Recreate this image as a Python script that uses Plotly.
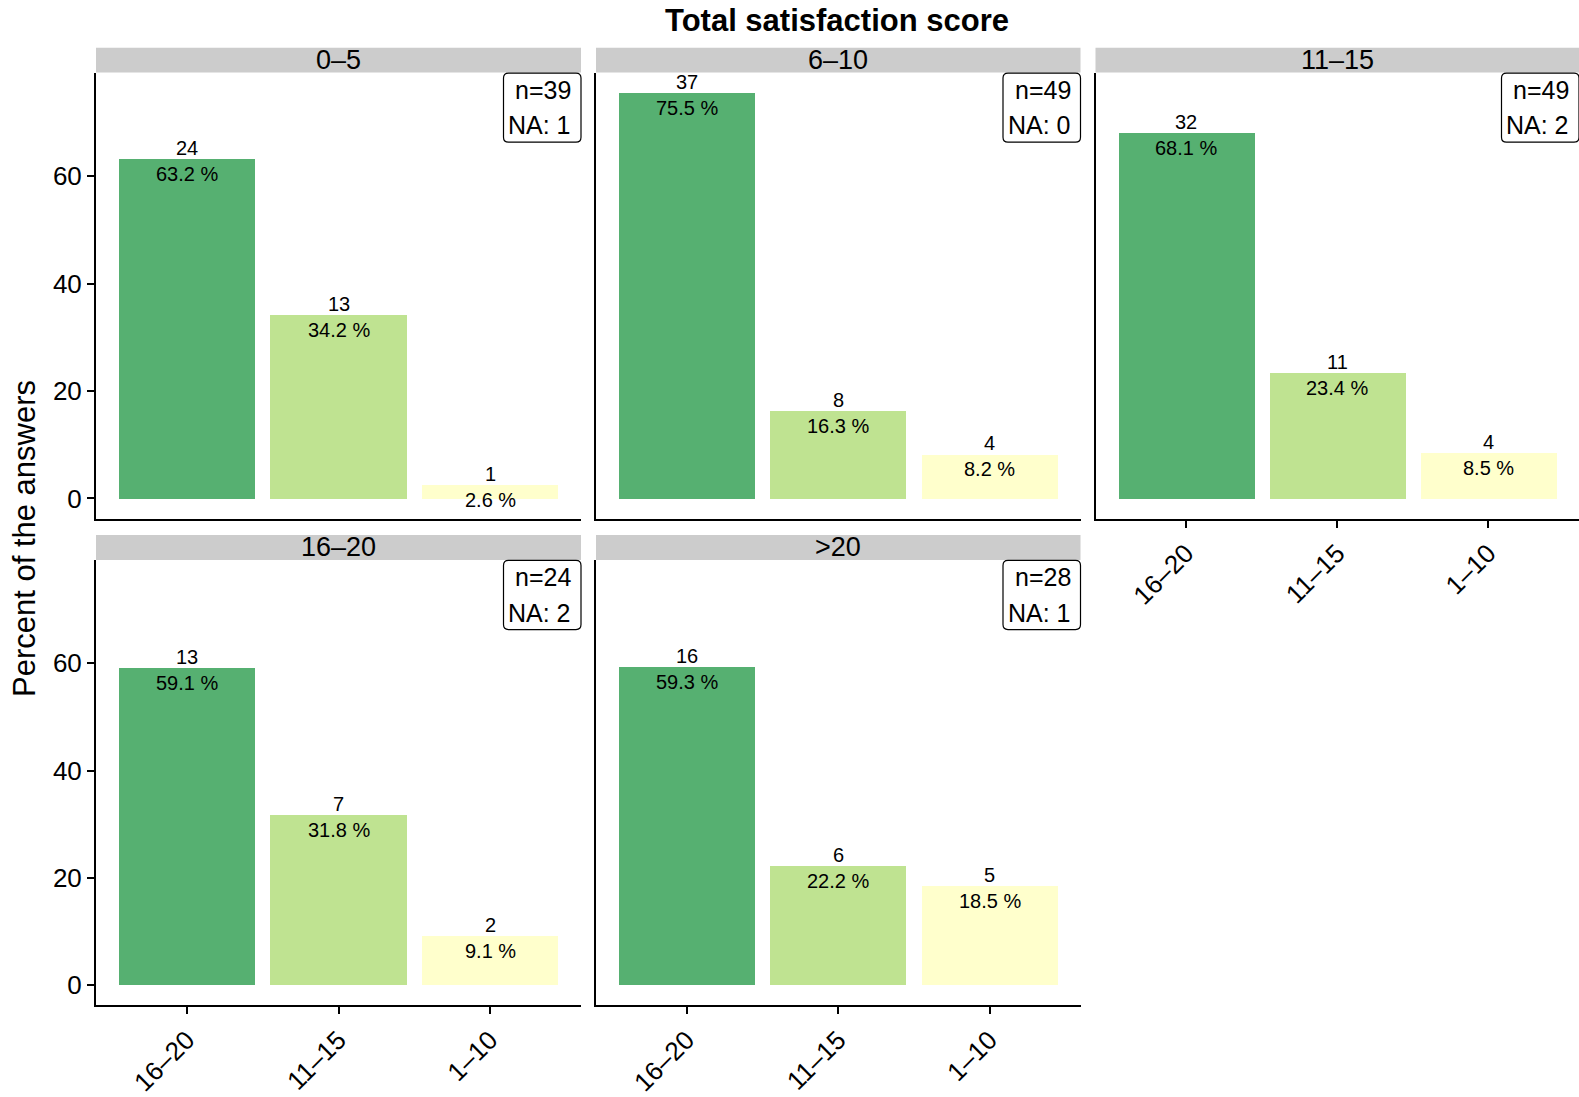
import plotly.graph_objects as go

# ---- data ----
facets = ["0–5", "6–10", "11–15", "16–20", ">20"]
categories = ["16–20", "11–15", "1–10"]
counts = [
    [24, 13, 1],
    [37, 8, 4],
    [32, 11, 4],
    [13, 7, 2],
    [16, 6, 5],
]
percents = [
    [63.2, 34.2, 2.6],
    [75.5, 16.3, 8.2],
    [68.1, 23.4, 8.5],
    [59.1, 31.8, 9.1],
    [59.3, 22.2, 18.5],
]
n_total = [39, 49, 49, 24, 28]
n_na = [1, 0, 2, 2, 1]
y_ticks = [0, 20, 40, 60]
title = "Total satisfaction score"
y_title = "Percent of the answers"

# ---- styling ----
W, H = 1579, 1097
FONT = "Liberation Sans, Arial, Helvetica, sans-serif"
bar_colors = ["#56B071", "#BFE391", "#FFFFCC"]
strip_color = "#CCCCCC"

col_px = [(96, 581), (596, 1080.5), (1095.5, 1579)]
row_px = [(73, 521.6), (563, 1011)]
strip_h = 25
positions = [(0, 0), (0, 1), (0, 2), (1, 0), (1, 1)]
ymax = max(max(p) for p in percents)
y_range = [-0.05 * ymax, ymax * 1.05]


def fx(px):
    return px / W


def fy(py):
    return 1 - py / H


fig = go.Figure()
annotations = []
shapes = []

for i, (r, c) in enumerate(positions):
    k = "" if i == 0 else str(i + 1)
    xa, ya = "x" + k, "y" + k
    x0, x1 = col_px[c]
    y0, y1 = row_px[r]
    fig.add_trace(go.Bar(
        x=categories, y=percents[i], width=0.9,
        marker=dict(color=bar_colors, line=dict(width=0)),
        xaxis=xa, yaxis=ya, showlegend=False, hoverinfo="skip",
    ))
    show_x = (r == 1) or (c == 2)
    show_y = (c == 0)
    fig.layout["xaxis" + k] = dict(
        domain=[fx(x0), min(fx(x1), 1.0)], anchor=ya, type="category",
        categoryorder="array", categoryarray=categories,
        range=[-0.6, 2.6], showline=True, linecolor="black", linewidth=2,
        ticks="outside" if show_x else "", ticklen=7, tickwidth=2, tickcolor="black",
        showticklabels=show_x, tickangle=-45,
        tickfont=dict(size=26, color="black", family=FONT),
        showgrid=False, zeroline=False, fixedrange=True,
    )
    fig.layout["yaxis" + k] = dict(
        domain=[fy(y1), fy(y0)], anchor=xa, range=y_range,
        showline=True, linecolor="black", linewidth=2,
        ticks="outside" if show_y else "", ticklen=7, tickwidth=2, tickcolor="black",
        tickvals=y_ticks, showticklabels=show_y,
        tickfont=dict(size=26, color="black", family=FONT),
        showgrid=False, zeroline=False, fixedrange=True,
    )
    # strip
    shapes.append(dict(type="rect", xref="paper", yref="paper",
                       x0=fx(x0), x1=fx(x1), y0=fy(y0), y1=fy(y0 - strip_h),
                       fillcolor=strip_color, line=dict(width=0), layer="below"))
    annotations.append(dict(text=facets[i], xref="paper", yref="paper",
                            x=fx((x0 + x1) / 2), y=fy(y0 - strip_h / 2),
                            xanchor="center", yanchor="middle", showarrow=False,
                            font=dict(size=27, color="black", family=FONT)))
    # bar labels
    for j, cat in enumerate(categories):
        annotations.append(dict(text=str(counts[i][j]), xref=xa, yref=ya,
                                x=cat, y=percents[i][j], yshift=11,
                                xanchor="center", yanchor="middle", showarrow=False,
                                font=dict(size=20, color="black", family=FONT)))
        annotations.append(dict(text=f"{percents[i][j]:.1f} %", xref=xa, yref=ya,
                                x=cat, y=percents[i][j], yshift=-15,
                                xanchor="center", yanchor="middle", showarrow=False,
                                font=dict(size=20, color="black", family=FONT)))
    # n / NA box
    bw, bh, rr = 77.5, 69.5, 5
    bx1, by0 = x1, y0 + 0.5
    bx0, by1 = bx1 - bw, by0 + bh
    path = (f"M {fx(bx0 + rr)} {fy(by0)} L {fx(bx1 - rr)} {fy(by0)} "
            f"Q {fx(bx1)} {fy(by0)} {fx(bx1)} {fy(by0 + rr)} "
            f"L {fx(bx1)} {fy(by1 - rr)} Q {fx(bx1)} {fy(by1)} {fx(bx1 - rr)} {fy(by1)} "
            f"L {fx(bx0 + rr)} {fy(by1)} Q {fx(bx0)} {fy(by1)} {fx(bx0)} {fy(by1 - rr)} "
            f"L {fx(bx0)} {fy(by0 + rr)} Q {fx(bx0)} {fy(by0)} {fx(bx0 + rr)} {fy(by0)} Z")
    shapes.append(dict(type="path", xref="paper", yref="paper", path=path,
                       fillcolor="white", line=dict(color="black", width=1.2)))
    annotations.append(dict(text=f"n={n_total[i]}", xref="paper", yref="paper",
                            x=fx(bx1 - 8), y=fy(by0 + 16.5), xanchor="right", yanchor="middle",
                            showarrow=False, font=dict(size=25, color="black", family=FONT)))
    annotations.append(dict(text=f"NA: {n_na[i]}", xref="paper", yref="paper",
                            x=fx(bx1 - 8), y=fy(by0 + 52.5), xanchor="right", yanchor="middle",
                            showarrow=False, font=dict(size=25, color="black", family=FONT)))

annotations.append(dict(text=f"<b>{title}</b>", xref="paper", yref="paper",
                        x=fx((96 + 1579) / 2), y=fy(21), xanchor="center", yanchor="middle",
                        showarrow=False, font=dict(size=31, color="black", family=FONT)))
annotations.append(dict(text=y_title, xref="paper", yref="paper",
                        x=fx(24), y=fy(542), xanchor="center", yanchor="middle",
                        textangle=-90, showarrow=False,
                        font=dict(size=31, color="black", family=FONT)))

fig.update_layout(
    width=W, height=H, autosize=False,
    margin=dict(l=0, r=0, t=0, b=0),
    paper_bgcolor="white", plot_bgcolor="white",
    annotations=annotations, shapes=shapes,
    bargap=0, showlegend=False,
    font=dict(family=FONT, color="black"),
)

# remove the browser's default 8px body margin so the figure sits at (0, 0)
fig.write_html(
    "out.html",
    config={"displayModeBar": False},
    post_script="document.documentElement.style.margin='0';"
                "document.body.style.margin='0';"
                "document.body.style.overflow='hidden';",
)
